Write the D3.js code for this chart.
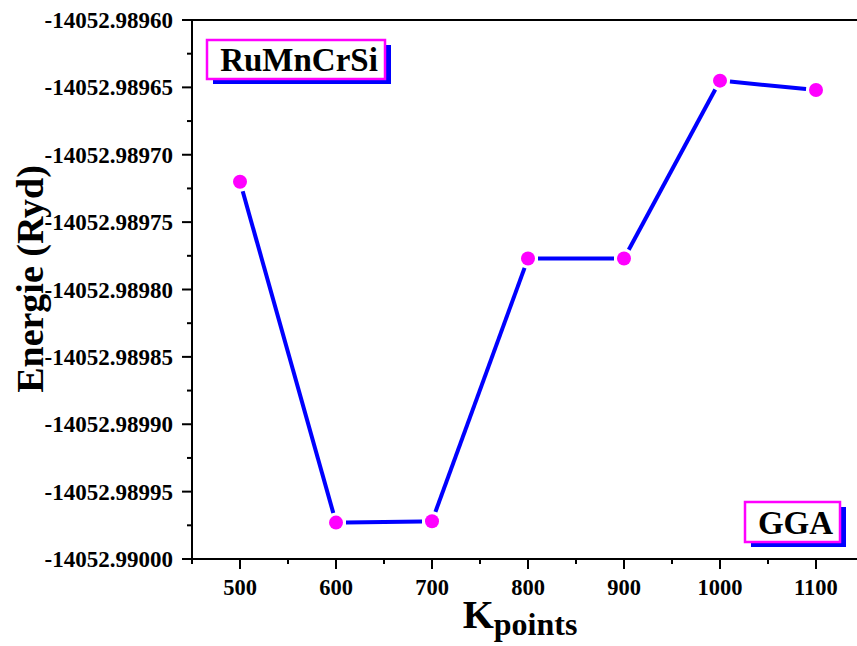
<!DOCTYPE html>
<html>
<head>
<meta charset="utf-8">
<script src="https://cdn.jsdelivr.net/npm/d3@7"></script>
<style>
  body { margin: 0; background: #fff; }
  text { font-family: "Liberation Serif", "Times New Roman", serif; font-weight: bold; }
</style>
</head>
<body>
<svg id="chart" width="857" height="646"></svg>
<script>
// k-point convergence data
var kpoints = [500, 600, 700, 800, 900, 1000, 1100];
var energies = [-14052.98972, -14052.989973, -14052.989972, -14052.989777, -14052.989777, -14052.989645, -14052.989652];
var yTicks = [-14052.9896, -14052.98965, -14052.9897, -14052.98975, -14052.9898, -14052.98985, -14052.9899, -14052.98995, -14052.99];
var xTicks = [500, 600, 700, 800, 900, 1000, 1100];
var compoundLabel = "RuMnCrSi";
var methodLabel = "GGA";

var svg = d3.select("#chart");
var plotLeft = 192, plotTop = 20, plotBottom = 559, plotRight = 864;

var x = d3.scaleLinear().domain([450, 1150]).range([plotLeft, plotRight]);
var y = d3.scaleLinear().domain([-14052.99, -14052.9896]).range([plotBottom, plotTop]);

// top frame line (right side is cut off by the picture)
svg.append("line")
    .attr("x1", plotLeft).attr("x2", 870)
    .attr("y1", plotTop).attr("y2", plotTop)
    .attr("stroke", "#000").attr("stroke-width", 2);

// y axis
var yAxis = svg.append("g").attr("transform", "translate(" + plotLeft + ",0)");
yAxis.append("line").attr("x1", 0).attr("x2", 0).attr("y1", plotTop - 1).attr("y2", plotBottom + 1)
    .attr("stroke", "#000").attr("stroke-width", 2);
// minor ticks between majors
var yMinor = d3.range(yTicks.length - 1).map(i => (yTicks[i] + yTicks[i + 1]) / 2);
yAxis.selectAll(".ymin").data(yMinor).enter().append("line")
    .attr("x1", -5).attr("x2", 0)
    .attr("y1", d => y(d)).attr("y2", d => y(d))
    .attr("stroke", "#000").attr("stroke-width", 2);
yAxis.selectAll(".ymaj").data(yTicks).enter().append("line")
    .attr("x1", -10).attr("x2", 0)
    .attr("y1", d => y(d)).attr("y2", d => y(d))
    .attr("stroke", "#000").attr("stroke-width", 2);
yAxis.selectAll(".ylab").data(yTicks).enter().append("text")
    .attr("x", -19).attr("y", d => y(d)).attr("dy", "0.35em")
    .attr("text-anchor", "end").attr("font-size", 23)
    .text(d => d.toFixed(5));

// x axis
var xAxis = svg.append("g").attr("transform", "translate(0," + plotBottom + ")");
xAxis.append("line").attr("x1", plotLeft - 1).attr("x2", 870).attr("y1", 0).attr("y2", 0)
    .attr("stroke", "#000").attr("stroke-width", 2);
var xMinor = xTicks.map(d => d - 50).concat([1150]);
xAxis.selectAll(".xmin").data(xMinor).enter().append("line")
    .attr("x1", d => x(d)).attr("x2", d => x(d))
    .attr("y1", 0).attr("y2", 5)
    .attr("stroke", "#000").attr("stroke-width", 2);
xAxis.selectAll(".xmaj").data(xTicks).enter().append("line")
    .attr("x1", d => x(d)).attr("x2", d => x(d))
    .attr("y1", 0).attr("y2", 10)
    .attr("stroke", "#000").attr("stroke-width", 2);
xAxis.selectAll(".xlab").data(xTicks).enter().append("text")
    .attr("x", d => x(d)).attr("y", 36)
    .attr("text-anchor", "middle").attr("font-size", 22.5)
    .text(d => d);

// axis titles
svg.append("text")
    .attr("transform", "translate(43,279) rotate(-90)")
    .attr("text-anchor", "middle").attr("font-size", 38)
    .text("Energie (Ryd)");

var xt = svg.append("text")
    .attr("x", 520).attr("y", 628)
    .attr("text-anchor", "middle");
xt.append("tspan").attr("font-size", 40).text("K");
xt.append("tspan").attr("font-size", 32).attr("dy", 7).text("points");

// line with small gaps near the markers
var gap = 10;
var pts = kpoints.map((k, i) => [x(k), y(energies[i])]);
var segs = d3.pairs(pts).map(p => {
    var dx = p[1][0] - p[0][0], dy = p[1][1] - p[0][1];
    var len = Math.sqrt(dx * dx + dy * dy);
    var ux = dx / len, uy = dy / len;
    return [p[0][0] + ux * gap, p[0][1] + uy * gap, p[1][0] - ux * gap, p[1][1] - uy * gap];
});
svg.selectAll(".seg").data(segs).enter().append("line")
    .attr("x1", d => d[0]).attr("y1", d => d[1])
    .attr("x2", d => d[2]).attr("y2", d => d[3])
    .attr("stroke", "#0000ff").attr("stroke-width", 4);

svg.selectAll(".dot").data(pts).enter().append("circle")
    .attr("cx", d => d[0]).attr("cy", d => d[1]).attr("r", 7)
    .attr("fill", "#ff00ff");

// label boxes with a blue drop shadow
function labelBox(bx, by, bw, bh, txt) {
    svg.append("rect").attr("x", bx + 6).attr("y", by + 5).attr("width", bw).attr("height", bh)
        .attr("fill", "#0000ff");
    svg.append("rect").attr("x", bx).attr("y", by).attr("width", bw).attr("height", bh)
        .attr("fill", "#fff").attr("stroke", "#ff00ff").attr("stroke-width", 2.5);
    svg.append("text").attr("x", bx + bw / 2 + 3).attr("y", by + bh / 2).attr("dy", "0.35em")
        .attr("text-anchor", "middle").attr("font-size", 33)
        .text(txt);
}
labelBox(207, 40, 178, 39, compoundLabel);
labelBox(745, 502, 95, 40, methodLabel);
</script>
</body>
</html>
